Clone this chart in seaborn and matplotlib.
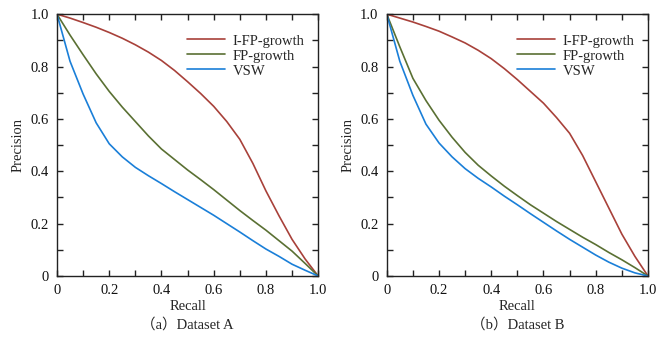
import numpy as np
import pandas as pd
import matplotlib
matplotlib.use("Agg")
import matplotlib.pyplot as plt
import seaborn as sns

recall = [0.0, 0.05, 0.1, 0.15, 0.2, 0.25, 0.3, 0.35, 0.4, 0.45, 0.5,
          0.55, 0.6, 0.65, 0.7, 0.75, 0.8, 0.85, 0.9, 0.95, 1.0]

# Dataset A
a_ifp = [1.0, 0.985, 0.968, 0.950, 0.930, 0.908, 0.883, 0.855, 0.823, 0.785, 0.742,
         0.697, 0.648, 0.590, 0.522, 0.430, 0.325, 0.230, 0.140, 0.065, 0.0]
a_fp = [1.0, 0.92, 0.845, 0.772, 0.705, 0.645, 0.590, 0.535, 0.485, 0.445, 0.405,
        0.368, 0.330, 0.290, 0.250, 0.212, 0.175, 0.135, 0.095, 0.048, 0.0]
a_vsw = [1.0, 0.82, 0.695, 0.585, 0.505, 0.455, 0.415, 0.383, 0.353, 0.322, 0.292,
         0.262, 0.232, 0.200, 0.168, 0.135, 0.103, 0.075, 0.045, 0.022, 0.0]

# Dataset B
b_ifp = [1.0, 0.985, 0.970, 0.953, 0.935, 0.913, 0.890, 0.862, 0.830, 0.792, 0.750,
         0.705, 0.660, 0.605, 0.545, 0.460, 0.360, 0.260, 0.160, 0.075, 0.0]
b_fp = [1.0, 0.875, 0.755, 0.670, 0.595, 0.530, 0.472, 0.423, 0.382, 0.343, 0.307,
        0.272, 0.240, 0.208, 0.178, 0.148, 0.120, 0.090, 0.062, 0.032, 0.0]
b_vsw = [1.0, 0.82, 0.690, 0.580, 0.508, 0.455, 0.410, 0.373, 0.340, 0.305, 0.272,
         0.238, 0.205, 0.172, 0.140, 0.110, 0.080, 0.053, 0.030, 0.012, 0.0]

methods = ["I-FP-growth", "FP-growth", "VSW"]
colors = ["#a8413a", "#5a7033", "#1a7fd8"]
captions = ["（a）Dataset A", "（b）Dataset B"]

sns.set_theme(style="ticks")
plt.rcParams["font.family"] = ["Liberation Serif", "Noto Sans CJK SC"]

fig = plt.figure(figsize=(6.68, 3.37), dpi=100)
positions = [[0.0853, 0.181, 0.391, 0.777], [0.579, 0.181, 0.391, 0.777]]
datasets = [[a_ifp, a_fp, a_vsw], [b_ifp, b_fp, b_vsw]]
fs = 10.5

for pos, series, cap in zip(positions, datasets, captions):
    ax = fig.add_axes(pos)
    for name, vals, c in zip(methods, series, colors):
        df = pd.DataFrame({"Recall": recall, "Precision": vals})
        sns.lineplot(data=df, x="Recall", y="Precision", ax=ax, color=c,
                     linewidth=1.2, label=name)
    ax.set_xlim(0, 1)
    ax.set_ylim(0, 1)
    ticks = np.arange(0, 1.01, 0.1)
    ax.set_xticks(ticks)
    ax.set_yticks(ticks)
    labels = ["0", "", "0.2", "", "0.4", "", "0.6", "", "0.8", "", "1.0"]
    ax.set_xticklabels(labels, fontsize=fs)
    ax.set_yticklabels(labels, fontsize=fs)
    ax.tick_params(direction="in", top=True, right=True, length=4, width=1,
                   color="#222222", pad=6, labelcolor="#111111")
    for s in ax.spines.values():
        s.set_linewidth(1.0)
        s.set_color("#222222")
    ax.set_xlabel("")
    ax.set_ylabel("")
    ax.text(0.5, -0.118, "Recall", transform=ax.transAxes, ha="center",
            va="center", fontsize=fs)
    ax.text(-0.149, 0.5, "Precision", transform=ax.transAxes, ha="center",
            va="center", rotation=90, fontsize=fs)
    ax.legend(loc="upper right", frameon=False, fontsize=fs,
              handlelength=2.6, handletextpad=0.5, labelspacing=0.12,
              borderaxespad=0.0, bbox_to_anchor=(0.97, 0.945))
    ax.text(0.5, -0.187, cap, transform=ax.transAxes, ha="center",
            va="center", fontsize=fs)

fig.savefig("out.png", dpi=100)
